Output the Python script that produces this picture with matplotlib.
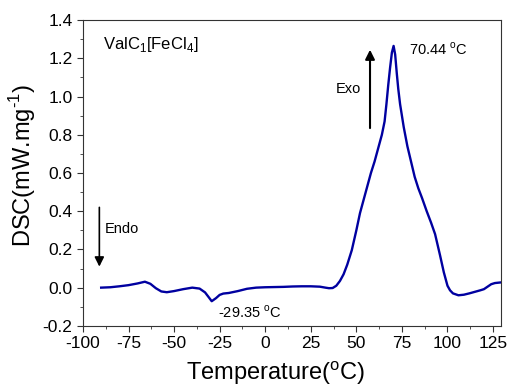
import matplotlib
matplotlib.use('Agg')
import matplotlib.pyplot as plt
from matplotlib.ticker import MultipleLocator, FormatStrFormatter

plt.rcParams['font.family'] = ['Liberation Sans', 'DejaVu Sans']
plt.rcParams['mathtext.fontset'] = 'custom'
plt.rcParams['mathtext.rm'] = 'Liberation Sans'
plt.rcParams['axes.unicode_minus'] = False

# DSC curve
temp = [-90, -85, -80, -75, -70, -66, -63, -60, -57, -54, -50, -45, -40, -36,
        -33, -31, -29.35, -27, -25, -23, -20, -15, -10, -5, 0, 5, 10, 15, 20,
        25, 30, 33, 35, 37, 39, 41, 43, 45, 47.5, 50, 52, 54, 56, 58, 60, 62,
        64, 65.5, 66.5, 67.5, 68.5, 69.5, 70.44, 71.3, 72.2, 73, 74, 76, 78,
        80, 82, 84, 86, 88.6, 91, 93.2, 95.9, 98, 100, 101.4, 103, 106, 109,
        112, 115, 118, 120, 122, 124, 126, 129]
dsc = [0.0, 0.002, 0.007, 0.013, 0.022, 0.031, 0.02, -0.003, -0.02, -0.024,
       -0.018, -0.008, 0.0, -0.005, -0.025, -0.05, -0.071, -0.055, -0.038,
       -0.031, -0.028, -0.018, -0.006, 0.0, 0.002, 0.003, 0.004, 0.006, 0.007,
       0.007, 0.005, 0.0, -0.003, -0.002, 0.01, 0.035, 0.07, 0.12, 0.196, 0.3,
       0.39, 0.46, 0.53, 0.6, 0.66, 0.73, 0.8, 0.87, 0.96, 1.06, 1.15, 1.23,
       1.265, 1.22, 1.12, 1.04, 0.96, 0.84, 0.74, 0.66, 0.58, 0.52, 0.47, 0.40,
       0.34, 0.28, 0.17, 0.08, 0.01, -0.014, -0.03, -0.04, -0.037, -0.03,
       -0.022, -0.014, -0.008, 0.005, 0.018, 0.024, 0.027]

peak_label = '70.44 $^{\\rm o}$C'
dip_label = '-29.35 $^{\\rm o}$C'
sample = 'ValC$_{\\rm 1}$[FeCl$_{\\rm 4}$]'

fig = plt.figure(figsize=(5.12, 3.87), dpi=100)
ax = fig.add_axes([0.162, 0.158, 0.817, 0.79])

ax.plot(temp, dsc, color='#0000a0', lw=1.7)

ax.set_xlim(-100, 129.5)
ax.set_ylim(-0.2, 1.4)
ax.xaxis.set_major_locator(MultipleLocator(25))
ax.xaxis.set_minor_locator(MultipleLocator(12.5))
ax.yaxis.set_major_locator(MultipleLocator(0.2))
ax.yaxis.set_minor_locator(MultipleLocator(0.1))
ax.yaxis.set_major_formatter(FormatStrFormatter('%.1f'))
ax.tick_params(which='both', direction='out', top=False, right=False,
               labelsize=12.5, color='#333333')
ax.tick_params(which='major', length=4)
ax.tick_params(which='minor', length=2.5)
for s in ax.spines.values():
    s.set_color('#333333')

ax.set_xlabel('Temperature($^{\\rm o}$C)', fontsize=17)
ax.set_ylabel('DSC(mW.mg$^{\\text{-1}}$)', fontsize=17)
ax.xaxis.set_label_coords(0.46, -0.11)
ax.yaxis.set_label_coords(-0.108, 0.525)

ax.text(-89, 1.27, sample, fontsize=12, va='center')
ax.text(79, 1.25, peak_label, fontsize=10.5, va='center')
ax.text(-26, -0.13, dip_label, fontsize=10.5, va='center')
ax.text(52.5, 1.04, 'Exo', fontsize=10.5, va='center', ha='right')
ax.text(-88, 0.305, 'Endo', fontsize=10.5, va='center')

ax.annotate('', xy=(57.5, 1.245), xytext=(57.5, 0.835),
            arrowprops=dict(arrowstyle='-|>', color='black', lw=1.5,
                            mutation_scale=14, shrinkA=0, shrinkB=0))
ax.annotate('', xy=(-91, 0.11), xytext=(-91, 0.42),
            arrowprops=dict(arrowstyle='-|>', color='black', lw=1.2,
                            mutation_scale=14, shrinkA=0, shrinkB=0))

fig.savefig('out.png', dpi=100)
